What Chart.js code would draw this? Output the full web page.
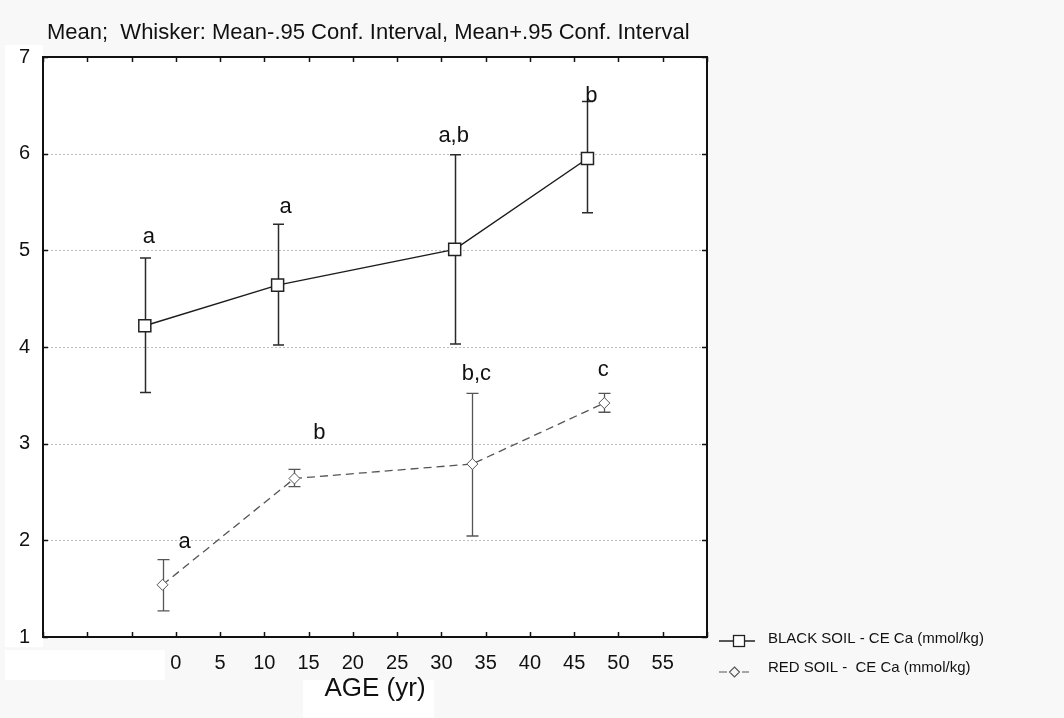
<!DOCTYPE html>
<html lang="en">
<head>
  <meta charset="UTF-8" />
  <title>CE Ca by age - black and red soil</title>
  <script src="https://cdn.jsdelivr.net/npm/chart.js"></script>
  <style>
    html, body { margin: 0; padding: 0; background: #f8f8f8; }
    .chart-box { position: relative; width: 1064px; height: 718px; }
  </style>
</head>
<body>
  <div class="chart-box">
    <canvas id="ageChart" width="1064" height="718"></canvas>
  </div>

  <script>
    // Axis values
    const xMin = -15;
    const xMax = 60;
    const xLabelFrom = 0;
    const xLabelTo = 55;
    const yTicks = [1, 2, 3, 4, 5, 6, 7];

    // Black soil - CE Ca (mmol/kg)
    const blackAge = [-3.5, 11.5, 31.5, 46.5];
    const blackMean = [4.22, 4.64, 5.01, 5.95];
    const blackLow = [3.53, 4.02, 4.03, 5.39];
    const blackHigh = [4.92, 5.27, 5.99, 6.54];
    const blackLetters = ['a', 'a', 'a,b', 'b'];

    // Red soil - CE Ca (mmol/kg)
    const redAge = [-1.5, 13.4, 33.5, 48.4];
    const redMean = [1.54, 2.64, 2.79, 3.42];
    const redLow = [1.27, 2.555, 2.045, 3.325];
    const redHigh = [1.80, 2.735, 3.52, 3.52];
    const redLetters = ['a', 'b', 'b,c', 'c'];

    const titleText = 'Mean;  Whisker: Mean-.95 Conf. Interval, Mean+.95 Conf. Interval';
    const legendBlack = 'BLACK SOIL - CE Ca (mmol/kg)';
    const legendRed = 'RED SOIL -  CE Ca (mmol/kg)';

    // letter placement, pixel offset from the top of each whisker
    const blackLetterOffset = [[4, -21], [8, -17], [-1, -19], [4, -6]];
    const redLetterOffset = [[22, -18], [25, -36], [4, -19], [-1, -23]];

    const FONT = "'Liberation Sans', Arial, sans-serif";
    const toPoints = (xs, ys) => xs.map((x, i) => ({ x: x, y: ys[i] }));

    const backdrop = {
      id: 'backdrop',
      beforeDraw(chart) {
        const { ctx, chartArea: a } = chart;
        ctx.save();
        ctx.fillStyle = '#f8f8f8';
        ctx.fillRect(0, 0, chart.width, chart.height);
        ctx.fillStyle = '#ffffff';
        ctx.fillRect(5, 45, a.left - 5, a.bottom - 45 + 10);
        ctx.fillRect(5, a.bottom + 13, 160, 30);
        ctx.fillRect(303, 680, 131, 38);
        ctx.fillRect(a.left, a.top, a.right - a.left, a.bottom - a.top);

        // dotted horizontal grid
        const ys = chart.scales.y;
        ctx.strokeStyle = '#bdbdbd';
        ctx.lineWidth = 1;
        ctx.setLineDash([2, 2]);
        yTicks.forEach(v => {
          const py = Math.round(ys.getPixelForValue(v)) + 0.5;
          ctx.beginPath();
          ctx.moveTo(a.left, py);
          ctx.lineTo(a.right, py);
          ctx.stroke();
        });
        ctx.restore();
      }
    };

    const whiskers = {
      id: 'whiskers',
      beforeDatasetsDraw(chart) {
        const { ctx } = chart;
        const xs = chart.scales.x, ys = chart.scales.y;
        const draw = (ages, lo, hi, color, width, cap) => {
          ctx.strokeStyle = color;
          ctx.lineWidth = width;
          ages.forEach((age, i) => {
            const px = Math.round(xs.getPixelForValue(age)) + 0.5;
            const p1 = ys.getPixelForValue(lo[i]);
            const p2 = ys.getPixelForValue(hi[i]);
            ctx.beginPath();
            ctx.moveTo(px, p1); ctx.lineTo(px, p2);
            ctx.moveTo(px - cap, p1); ctx.lineTo(px + cap, p1);
            ctx.moveTo(px - cap, p2); ctx.lineTo(px + cap, p2);
            ctx.stroke();
          });
        };
        ctx.save();
        draw(blackAge, blackLow, blackHigh, '#2a2a2a', 1.5, 5.5);
        draw(redAge, redLow, redHigh, '#555555', 1.3, 6);
        ctx.restore();
      }
    };

    const decorations = {
      id: 'decorations',
      afterDraw(chart) {
        const { ctx, chartArea: a } = chart;
        const xs = chart.scales.x, ys = chart.scales.y;
        ctx.save();

        // frame and inner ticks
        ctx.strokeStyle = '#111';
        ctx.lineWidth = 2;
        ctx.strokeRect(a.left, a.top, a.right - a.left, a.bottom - a.top);
        ctx.lineWidth = 1.5;
        ctx.beginPath();
        xs.ticks.forEach(t => {
          const px = Math.round(xs.getPixelForValue(t.value)) + 0.5;
          ctx.moveTo(px, a.top); ctx.lineTo(px, a.top + 5);
          ctx.moveTo(px, a.bottom); ctx.lineTo(px, a.bottom - 5);
        });
        yTicks.forEach(v => {
          const py = Math.round(ys.getPixelForValue(v)) + 0.5;
          ctx.moveTo(a.left, py); ctx.lineTo(a.left + 5, py);
          ctx.moveTo(a.right, py); ctx.lineTo(a.right - 5, py);
        });
        ctx.stroke();

        // group letters
        ctx.fillStyle = '#111';
        ctx.font = '22px ' + FONT;
        ctx.textAlign = 'center';
        ctx.textBaseline = 'middle';
        const letters = (ages, hi, labels, offs) => {
          ages.forEach((age, i) => {
            const px = xs.getPixelForValue(age) + offs[i][0];
            const py = ys.getPixelForValue(hi[i]) + offs[i][1];
            ctx.fillText(labels[i], px, py);
          });
        };
        letters(blackAge, blackHigh, blackLetters, blackLetterOffset);
        letters(redAge, redHigh, redLetters, redLetterOffset);

        // title
        ctx.textAlign = 'left';
        ctx.font = '22px ' + FONT;
        ctx.fillText(titleText, 47, 33);

        // legend
        const lx = 719;
        ctx.font = '15px ' + FONT;
        ctx.strokeStyle = '#222';
        ctx.lineWidth = 1.3;
        ctx.beginPath();
        ctx.moveTo(lx, 641); ctx.lineTo(lx + 36, 641);
        ctx.stroke();
        ctx.fillStyle = '#fff';
        ctx.fillRect(lx + 14.5, 635.5, 11, 11);
        ctx.strokeRect(lx + 14.5, 635.5, 11, 11);
        ctx.fillStyle = '#111';
        ctx.fillText(legendBlack, 768, 639);

        ctx.strokeStyle = '#555';
        ctx.lineWidth = 1.1;
        ctx.beginPath();
        ctx.moveTo(lx, 672); ctx.lineTo(lx + 8, 672);
        ctx.moveTo(lx + 23, 672); ctx.lineTo(lx + 30, 672);
        ctx.moveTo(lx + 15.5, 667); ctx.lineTo(lx + 20.5, 672);
        ctx.lineTo(lx + 15.5, 677); ctx.lineTo(lx + 10.5, 672);
        ctx.closePath();
        ctx.stroke();
        ctx.fillStyle = '#111';
        ctx.fillText(legendRed, 768, 668);

        ctx.restore();
      }
    };

    new Chart(document.getElementById('ageChart').getContext('2d'), {
      type: 'scatter',
      data: {
        datasets: [{
          label: legendBlack,
          data: toPoints(blackAge, blackMean),
          showLine: true,
          borderColor: '#1c1c1c',
          borderWidth: 1.5,
          pointStyle: 'rect',
          pointRadius: 8.5,
          pointBackgroundColor: '#ffffff',
          pointBorderColor: '#222',
          pointBorderWidth: 1.5
        }, {
          label: legendRed,
          data: toPoints(redAge, redMean),
          showLine: true,
          borderColor: '#555555',
          borderWidth: 1.3,
          borderDash: [8, 5],
          pointStyle: 'rectRot',
          pointRadius: 5.5,
          pointBackgroundColor: '#ffffff',
          pointBorderColor: '#555',
          pointBorderWidth: 1
        }]
      },
      options: {
        responsive: false,
        animation: false,
        layout: { padding: { left: 0, right: 357, top: 57, bottom: 0 } },
        plugins: {
          legend: { display: false },
          tooltip: { enabled: false }
        },
        scales: {
          x: {
            type: 'linear',
            min: xMin,
            max: xMax,
            grid: { display: false },
            border: { display: false },
            ticks: {
              stepSize: 5,
              padding: 6,
              color: '#111',
              font: { family: FONT, size: 20 },
              callback: v => (v >= xLabelFrom && v <= xLabelTo) ? String(v) : ''
            },
            title: {
              display: true,
              text: 'AGE (yr)',
              color: '#111',
              font: { family: FONT, size: 26 },
              padding: { top: 0, bottom: 14 }
            },
            afterFit: s => { s.height = 81; }
          },
          y: {
            min: 1,
            max: 7,
            grid: { display: false },
            border: { display: false },
            ticks: {
              stepSize: 1,
              padding: 5,
              color: '#111',
              font: { family: FONT, size: 20 }
            },
            afterFit: s => { s.width = 43; }
          }
        }
      },
      plugins: [backdrop, whiskers, decorations]
    });
  </script>
</body>
</html>
